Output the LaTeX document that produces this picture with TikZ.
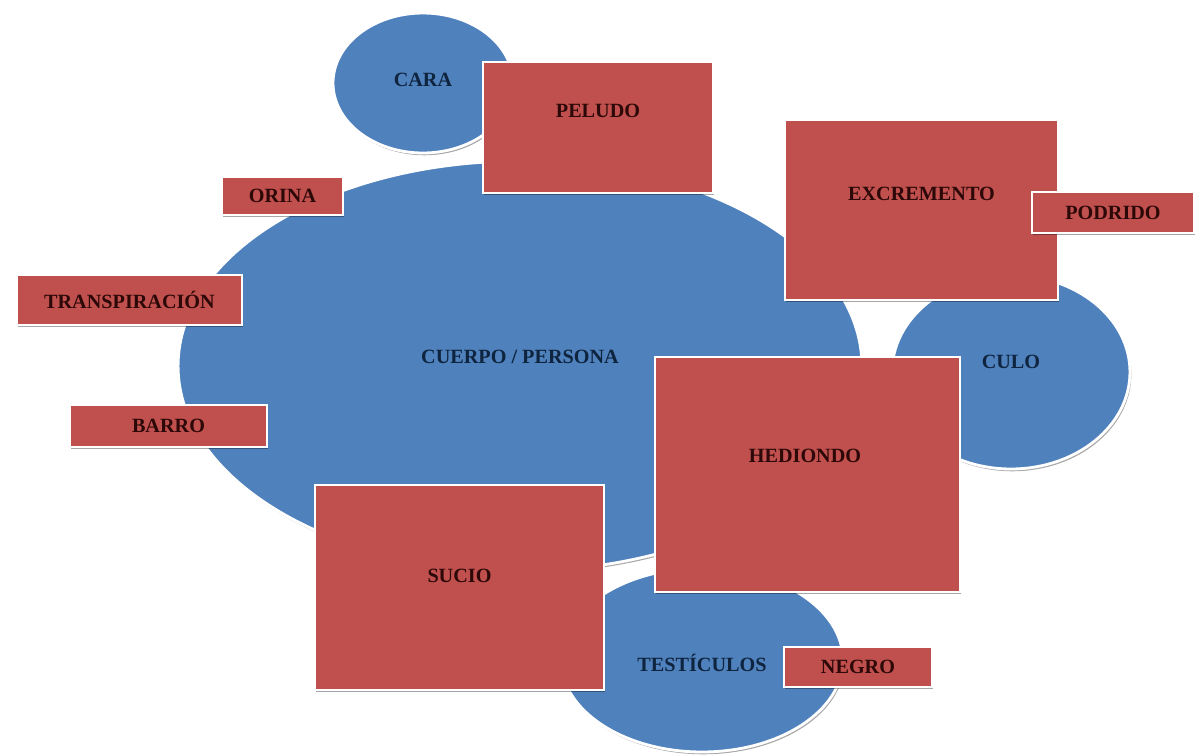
\documentclass[tikz,border=0pt]{standalone}
\usepackage{fontspec}
\setmainfont{Liberation Serif}
\usepackage{xcolor}
\usetikzlibrary{positioning,shapes.geometric,shadows}
\definecolor{blobblue}{RGB}{79,129,189}
\definecolor{boxred}{RGB}{192,80,77}
\definecolor{inkblue}{RGB}{15,36,62}
\definecolor{inkred}{RGB}{45,8,8}
\tikzset{
  mapshadow/.style={drop shadow={shadow xshift=0.8pt, shadow yshift=-1.3pt, fill=black, opacity=0.35}},
  mapnode/.style={draw=white, line width=1.6pt, mapshadow, inner sep=0pt},
  maptext/.style={font=\bfseries\fontsize{11.5}{13}\selectfont, inner sep=0pt},
}

\begin{document}
\begin{tikzpicture}[
  x=0.02cm, y=-0.02cm,
  blob/.style={mapnode, ellipse, fill=blobblue},
  rbox/.style={mapnode, rectangle, fill=boxred, maptext, text=inkred},
  lblue/.style={maptext, text=inkblue},
  lred/.style={maptext, text=inkred},
]
  \useasboundingbox (0,0) rectangle (1198,755);

  % ellipses
  \node[blob, minimum width=5.64cm, minimum height=3.68cm] (testi) at (702,660) {};
  \node[blob, minimum width=4.76cm, minimum height=3.88cm] (culo) at (1011,372) {};
  \node[blob, minimum width=3.6cm, minimum height=2.8cm] (cara) at (423,83) {};
  \node[blob, minimum width=13.68cm, minimum height=8.2cm] (cuerpo) at (520,366) {};

  \node[lblue] (testiT) at ([yshift=-0.06cm]testi.center) {TESTÍCULOS};
  \node[lblue] (culoT) at ([yshift=0.2cm]culo.center) {CULO};
  \node[lblue] (caraT) at ([yshift=0.06cm]cara.center) {CARA};
  \node[lblue] (cuerpoT) at ([yshift=0.18cm]cuerpo.center) {CUERPO / PERSONA};

  % boxes
  \node[rbox, minimum width=4.6cm, minimum height=2.62cm] (peludo) at (598,127.5) {};
  \node[rbox, minimum width=2.42cm, minimum height=0.76cm] (orina) at (282.5,196) {ORINA};
  \node[rbox, minimum width=4.5cm, minimum height=1.0cm] (transp) at (129.5,300) {TRANSPIRACIÓN};
  \node[rbox, minimum width=3.94cm, minimum height=0.84cm] (barro) at (168.5,426) {BARRO};
  \node[rbox, minimum width=5.46cm, minimum height=3.6cm] (excre) at (921.5,210) {};
  \node[rbox, minimum width=3.24cm, minimum height=0.82cm] (podrido) at (1113,212.5) {PODRIDO};
  \node[rbox, minimum width=6.1cm, minimum height=4.7cm] (hediondo) at (807.5,474.5) {};
  \node[rbox, minimum width=5.78cm, minimum height=4.1cm] (sucio) at (459.5,587.5) {};
  \node[rbox, minimum width=2.96cm, minimum height=0.8cm] (negro) at (858,667) {NEGRO};

  \node[lred] (peludoT) at ([yshift=-1.0cm]peludo.north) {PELUDO};
  \node[lred] (excreT) at ([yshift=-1.5cm]excre.north) {EXCREMENTO};
  \node[lred] (hediondoT) at ([yshift=-2.0cm, xshift=-0.05cm]hediondo.north) {HEDIONDO};
  \node[lred] (sucioT) at ([yshift=-1.84cm]sucio.north) {SUCIO};
\end{tikzpicture}
\end{document}
